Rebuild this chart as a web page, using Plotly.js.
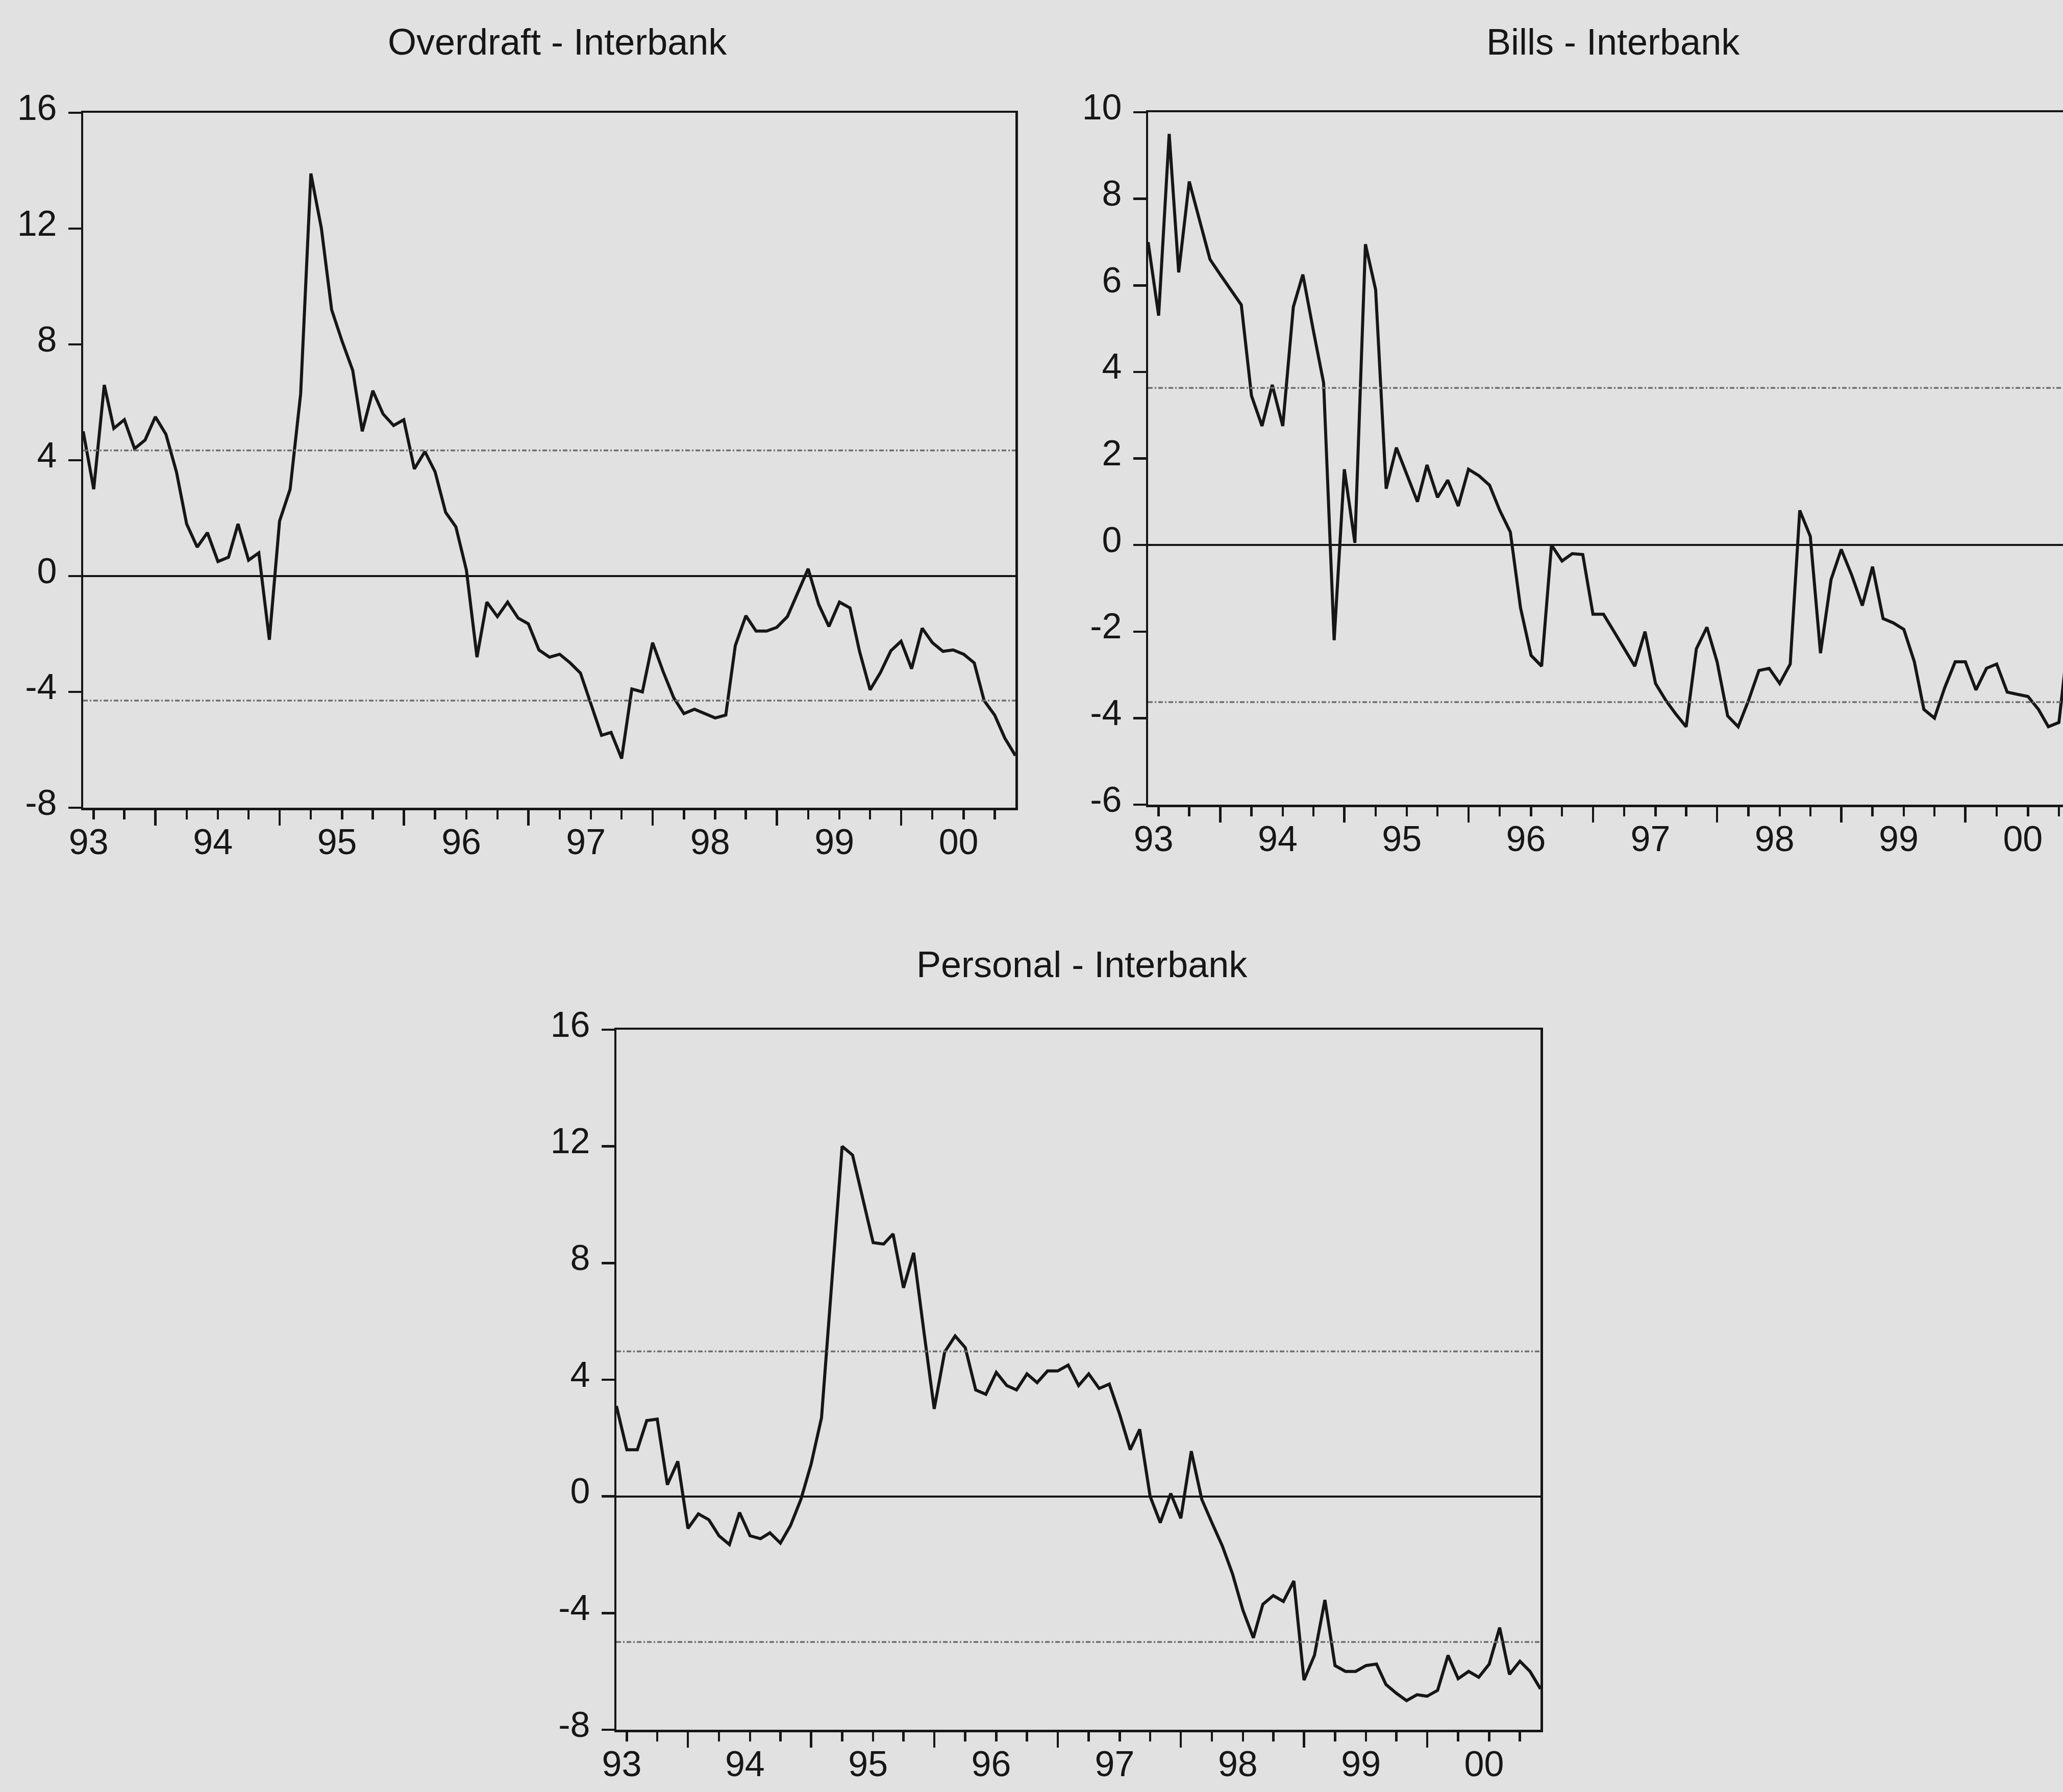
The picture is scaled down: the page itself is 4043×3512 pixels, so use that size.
<!DOCTYPE html>
<html>
<head>
<meta charset="utf-8">
<script src="https://cdn.plot.ly/plotly-3.0.1.min.js"></script>
<style>
  html, body { margin: 0; padding: 0; background: #e1e1e1; overflow: hidden; }
  #chart { width: 4043px; height: 3512px; }
</style>
</head>
<body>
<div id="chart"></div>
<script>
// Monthly lending-rate spreads over the interbank rate, 1992:12 - 2000:06
const firstMonth = [1992, 12];
const monthCount = 91;

const overdraft = [
  5.0, 3.0, 6.6, 5.1, 5.4, 4.4, 4.7, 5.5, 4.9, 3.6,
  1.8, 1.0, 1.5, 0.5, 0.65, 1.8, 0.55, 0.8, -2.2, 1.9,
  3.0, 6.3, 13.9, 12.0, 9.2, 8.1, 7.1, 5.0, 6.4, 5.6,
  5.2, 5.4, 3.7, 4.3, 3.6, 2.2, 1.7, 0.2, -2.8, -0.9,
  -1.4, -0.9, -1.45, -1.65, -2.55, -2.8, -2.7, -3.0, -3.35, -4.4,
  -5.5, -5.4, -6.3, -3.9, -4.0, -2.3, -3.3, -4.2, -4.75, -4.6,
  -4.75, -4.9, -4.8, -2.4, -1.37, -1.9, -1.9, -1.77, -1.4, -0.56,
  0.25, -0.98, -1.74, -0.9, -1.1, -2.6, -3.93, -3.34, -2.58, -2.25,
  -3.2, -1.8, -2.3, -2.6, -2.55, -2.7, -3.0, -4.3, -4.8, -5.6,
  -6.2
];

const bills = [
  7.0, 5.3, 9.5, 6.3, 8.4, 7.5, 6.6, 6.25, 5.9, 5.55,
  3.45, 2.75, 3.7, 2.75, 5.5, 6.25, 4.95, 3.75, -2.2, 1.75,
  0.05, 6.95, 5.9, 1.3, 2.25, 1.6, 1.0, 1.85, 1.1, 1.5,
  0.9, 1.75, 1.6, 1.38, 0.8, 0.3, -1.45, -2.55, -2.8, 0.0,
  -0.37, -0.2, -0.22, -1.6, -1.6, -2.0, -2.4, -2.8, -2.0, -3.2,
  -3.6, -3.9, -4.2, -2.4, -1.9, -2.7, -3.95, -4.2, -3.6, -2.9,
  -2.85, -3.2, -2.75, 0.8, 0.2, -2.5, -0.8, -0.1, -0.7, -1.4,
  -0.5, -1.7, -1.8, -1.95, -2.7, -3.8, -4.0, -3.3, -2.7, -2.7,
  -3.35, -2.85, -2.75, -3.4, -3.45, -3.5, -3.8, -4.2, -4.1, -2.0,
  -2.3
];

const personal = [
  3.1, 1.6, 1.6, 2.6, 2.65, 0.4, 1.2, -1.1, -0.6, -0.8,
  -1.35, -1.65, -0.55, -1.35, -1.45, -1.25, -1.6, -1.0, -0.1, 1.1,
  2.7, 7.3, 12.0, 11.7, 10.2, 8.7, 8.65, 9.0, 7.15, 8.35,
  5.6, 3.0, 4.95, 5.5, 5.1, 3.65, 3.5, 4.25, 3.8, 3.65,
  4.2, 3.9, 4.3, 4.3, 4.5, 3.8, 4.2, 3.7, 3.85, 2.8,
  1.6, 2.3, 0.0, -0.9, 0.1, -0.75, 1.55, -0.1, -0.9, -1.7,
  -2.65, -3.9, -4.85, -3.7, -3.4, -3.6, -2.9, -6.3, -5.45, -3.55,
  -5.8, -6.0, -6.0, -5.8, -5.75, -6.45, -6.75, -7.0, -6.8, -6.85,
  -6.65, -5.45, -6.25, -6.0, -6.2, -5.75, -4.5, -6.1, -5.65, -6.0,
  -6.6
];

// Upper and lower reference bands (dotted)
const overdraftBand = [4.34, -4.30];
const billsBand = [3.63, -3.63];
const personalBand = [4.97, -4.99];

// Vertical tick values and their printed labels
const wideTicks = [-8, -4, 0, 4, 8, 12, 16];
const wideLabels = ['-8', '-4', '0', '4', '8', '12', '16'];
const billsTicks = [-6, -4, -2, 0, 2, 4, 6, 8, 10];
const billsLabels = ['-6', '-4', '-2', '0', '2', '4', '6', '8', '10'];

const yearLabels = ['93', '94', '95', '96', '97', '98', '99', '00'];
const yearTicks = ['1993-01-01', '1994-01-01', '1995-01-01', '1996-01-01',
                   '1997-01-01', '1998-01-01', '1999-01-01', '2000-01-01'];
const midYearTicks = ['1993-07-01', '1994-07-01', '1995-07-01', '1996-07-01',
                      '1997-07-01', '1998-07-01', '1999-07-01', '2000-07-01'];

// Monthly calendar for the sample
const months = [];
for (let k = 0; k < monthCount; k++) {
  const m = firstMonth[1] - 1 + k;
  const y = firstMonth[0] + Math.floor(m / 12);
  const mm = (m % 12) + 1;
  months.push(y + '-' + String(mm).padStart(2, '0') + '-01');
}
const quarterTicks = months.filter(d => ['01', '04', '07', '10'].includes(d.slice(5, 7)));

const INK = '#161616';
const BAND = '#6e6e6e';
const FONT = '"Liberation Sans", Arial, Helvetica, sans-serif';
const BG = '#e1e1e1';

const fullRange = [months[0], months[months.length - 1]];
const clippedRange = [months[0], '2000-04-13'];

function xBase(domain, anchor, range) {
  return {
    domain: domain, anchor: anchor, range: range, type: 'date',
    showline: true, linecolor: INK, linewidth: 4.5, mirror: true,
    showgrid: false, zeroline: false,
    tickmode: 'array', tickvals: yearTicks, ticktext: yearLabels,
    ticks: 'outside', ticklen: 18, tickwidth: 4.5, tickcolor: INK,
    ticklabelstandoff: -16, ticklabelshift: -10,
    tickfont: { family: FONT, size: 70, color: INK },
    minor: { tickmode: 'array', tickvals: quarterTicks, ticks: 'outside',
             ticklen: 18, tickwidth: 4.5, tickcolor: INK, showgrid: false },
    fixedrange: true
  };
}

function xLong(over, anchor, range) {
  return {
    overlaying: over, anchor: anchor, range: range, type: 'date', side: 'bottom',
    showline: false, showgrid: false, zeroline: false,
    tickmode: 'array', tickvals: midYearTicks,
    ticks: 'outside', ticklen: 34, tickwidth: 4.5, tickcolor: INK,
    showticklabels: false, fixedrange: true
  };
}

function yBase(domain, anchor, range, vals, labels, mirror) {
  return {
    domain: domain, anchor: anchor, range: range,
    showline: true, linecolor: INK, linewidth: 4.5, mirror: mirror,
    showgrid: false,
    zeroline: true, zerolinecolor: INK, zerolinewidth: 4,
    tickmode: 'array', tickvals: vals, ticktext: labels,
    ticks: 'outside', ticklen: 25, tickwidth: 4.5, tickcolor: INK,
    ticklabelstandoff: 8, ticklabelshift: -11,
    tickfont: { family: FONT, size: 70, color: INK },
    fixedrange: true
  };
}

function seriesTrace(values, xa, ya) {
  return { x: months, y: values, xaxis: xa, yaxis: ya, type: 'scatter', mode: 'lines',
           line: { color: INK, width: 6 }, hoverinfo: 'skip' };
}

function bandTraces(band, xa, ya) {
  return band.map(v => ({
    x: [months[0], months[months.length - 1]], y: [v, v], xaxis: xa, yaxis: ya,
    type: 'scatter', mode: 'lines',
    line: { color: BAND, width: 3.5, dash: '9px,4px,3px,4px' }, hoverinfo: 'skip'
  }));
}

const data = [
  ...bandTraces(overdraftBand, 'x4', 'y'),
  seriesTrace(overdraft, 'x', 'y'),
  ...bandTraces(billsBand, 'x5', 'y2'),
  seriesTrace(bills, 'x2', 'y2'),
  ...bandTraces(personalBand, 'x6', 'y3'),
  seriesTrace(personal, 'x3', 'y3')
];

const W = 4043, H = 3512;
const px = v => v / W;
const py = v => 1 - v / H;

const titleFont = { family: FONT, size: 72, color: INK };

const layout = {
  width: W, height: H, autosize: false,
  margin: { l: 0, r: 0, t: 0, b: 0, pad: 0 },
  paper_bgcolor: BG, plot_bgcolor: BG,
  showlegend: false,
  xaxis: xBase([px(163), px(1990)], 'y', fullRange),
  yaxis: yBase([py(1583), py(221)], 'x', [-8, 16], wideTicks, wideLabels, true),
  xaxis2: xBase([px(2250), 1], 'y2', clippedRange),
  yaxis2: yBase([py(1577), py(220)], 'x2', [-6, 10], billsTicks, billsLabels, false),
  xaxis3: xBase([px(1208), px(3019)], 'y3', fullRange),
  yaxis3: yBase([py(3390), py(2018)], 'x3', [-8, 16], wideTicks, wideLabels, true),
  xaxis4: xLong('x', 'y', fullRange),
  xaxis5: xLong('x2', 'y2', clippedRange),
  xaxis6: xLong('x3', 'y3', fullRange),
  annotations: [
    { text: 'Overdraft - Interbank', xref: 'paper', yref: 'paper',
      x: px(1092), y: py(82), xanchor: 'center', yanchor: 'middle',
      showarrow: false, font: titleFont },
    { text: 'Bills - Interbank', xref: 'paper', yref: 'paper',
      x: px(3161), y: py(82), xanchor: 'center', yanchor: 'middle',
      showarrow: false, font: titleFont },
    { text: 'Personal - Interbank', xref: 'paper', yref: 'paper',
      x: px(2120), y: py(1890), xanchor: 'center', yanchor: 'middle',
      showarrow: false, font: titleFont }
  ]
};

Plotly.newPlot('chart', data, layout, { staticPlot: true, displayModeBar: false });
</script>
</body>
</html>
